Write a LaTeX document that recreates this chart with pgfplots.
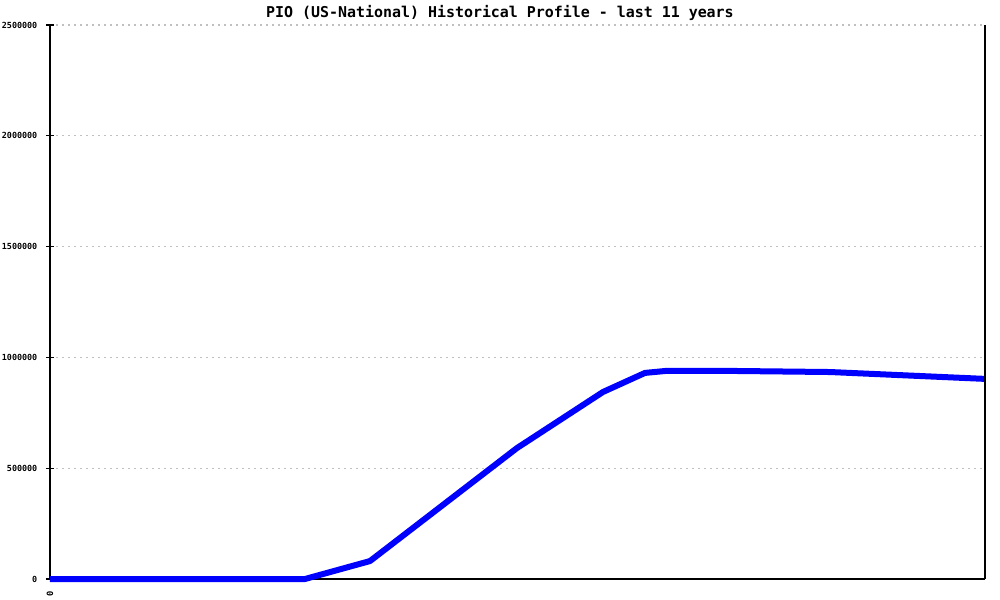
\documentclass[border=0pt]{standalone}
\usepackage{fontspec}
\setmainfont{DejaVu Sans Mono}
\usepackage{pgfplots}
\pgfplotsset{compat=1.18}
\definecolor{gridgray}{RGB}{192,192,192}
\definecolor{lineblue}{RGB}{0,0,255}

\begin{document}
\begin{tikzpicture}[x=0.75pt,y=0.75pt]
  \useasboundingbox (0,0) rectangle (1000,600);
  \node[font=\bfseries\fontsize{11.2}{12}\selectfont] at (500,587) {PIO (US-National) Historical Profile - last 11 years};
  \begin{axis}[
      at={(37.5pt,15.75pt)}, anchor=south west,
      scale only axis, width=701.25pt, height=415.5pt,
      xmin=0, xmax=935, ymin=0, ymax=2500000,
      axis x line*=bottom, axis y line*=left,
      axis line style={line width=0.9pt, -},
      xtick={0}, xticklabels={0},
      x tick label style={yshift=-3pt, rotate=90, anchor=east, font=\bfseries\fontsize{6.5}{7}\selectfont},
      x tick style={draw=none},
      ytick={0,500000,1000000,1500000,2000000,2500000},
      y tick label style={font=\bfseries\fontsize{6.3}{7}\selectfont, xshift=-3pt},
      y tick style={line width=0.9pt, black},
      tick align=center, major tick length=6pt,
      scaled y ticks=false,
      /pgf/number format/fixed, /pgf/number format/1000 sep={},
      /pgf/number format/assume math mode=true,
      ymajorgrids=true,
      major grid style={gridgray, line width=0.9pt, dash pattern=on 1.5pt off 3pt},
      clip=false]
    \addplot[lineblue, line width=4.5pt, line join=round] coordinates {
      (0,0) (255,0) (320,81000) (405,376000) (467,591000)
      (553,844000) (595,930000) (616,939000) (680,939000)
      (780,934000) (935,903000)};
    \draw[line width=0.9pt] (rel axis cs:1,0) -- (rel axis cs:1,1);
  \end{axis}
\end{tikzpicture}
\end{document}
